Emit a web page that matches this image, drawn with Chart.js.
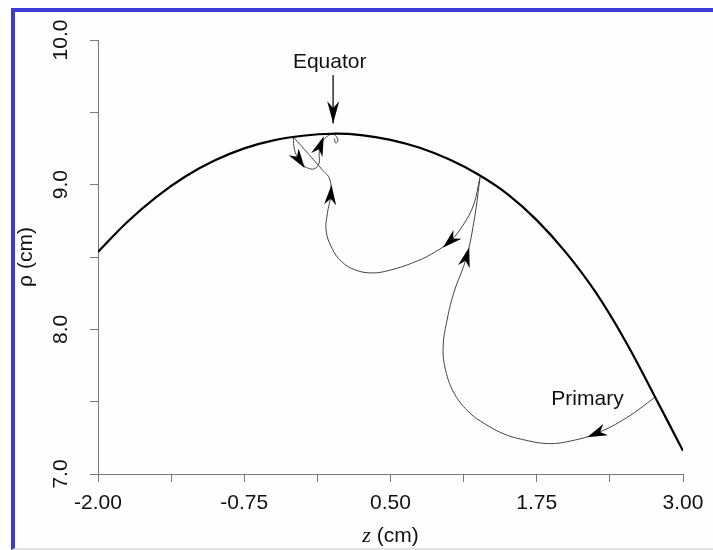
<!DOCTYPE html>
<html>
<head>
<meta charset="UTF-8">
<title>Trajetórias na superfície</title>
<script src="https://cdn.jsdelivr.net/npm/chart.js"></script>
<style>
    html, body { margin: 0; padding: 0; background: #fff; }
    #wrap { position: relative; width: 713px; height: 550px; overflow: hidden; background: #fefefe; }
    #grafico { position: absolute; left: 0; top: 0; }
    #moldura { position: absolute; left: 11px; top: 8px; right: 0; bottom: 0; border-left: 4px solid #3b3bd6; border-top: 4px solid #3b3bd6; border-bottom: 2px solid #e2e2e2; pointer-events: none; }
</style>
</head>
<body>
<div id="wrap">
    <canvas id="grafico" width="713" height="550"></canvas>
    <div id="moldura"></div>
</div>
<script>
    // superficie (curva grossa)
    const surfaceZ   = [-2.00, -1.75, -1.50, -1.25, -1.00, -0.75, -0.50, -0.25, 0.00, 0.25, 0.50, 0.75, 1.00, 1.25, 1.50, 1.75, 2.00, 2.25, 2.50, 2.75, 3.00];
    const surfaceRho = [8.535, 8.742, 8.916, 9.058, 9.168, 9.251, 9.306, 9.338, 9.352, 9.343, 9.31, 9.255, 9.175, 9.07, 8.935, 8.755, 8.53, 8.26, 7.93, 7.55, 7.16];

    // trajetoria, em trechos [z, rho]
    const primaryLeg = [[2.76, 7.53], [2.52, 7.39], [2.26, 7.28], [2.05, 7.23], [1.85, 7.21], [1.62, 7.24], [1.46, 7.28], [1.30, 7.35], [1.18, 7.42], [1.05, 7.55], [0.97, 7.72], [0.95, 7.88], [0.98, 8.05], [1.04, 8.25], [1.15, 8.50], [1.22, 8.78], [1.265, 9.05]];
    const loopLeg = [[1.265, 9.05], [1.21, 8.86], [1.12, 8.72], [1.01, 8.61], [0.85, 8.52], [0.69, 8.46], [0.50, 8.41], [0.35, 8.39], [0.20, 8.41], [0.08, 8.47], [0.00, 8.56], [-0.05, 8.68], [-0.04, 8.80], [-0.01, 8.93], [-0.02, 9.04], [-0.08, 9.10], [-0.33, 9.33]];
    const equatorLeg = [[-0.33, 9.33], [-0.32, 9.24], [-0.28, 9.17], [-0.22, 9.12], [-0.15, 9.11], [-0.11, 9.15], [-0.11, 9.21], [-0.10, 9.27], [-0.06, 9.32], [0.00, 9.35], [0.04, 9.33], [0.05, 9.30], [0.03, 9.29], [0.02, 9.32]];
    const equatorPointer = [[0.01, 9.757], [0.01, 9.424]];

    const xTickValues = [-2, -1.375, -0.75, -0.125, 0.5, 1.125, 1.75, 2.375, 3];
    const xTickLabels = ['-2.00', '', '-0.75', '', '0.50', '', '1.75', '', '3.00'];
    const yTickValues = [7, 7.5, 8, 8.5, 9, 9.5, 10];
    const yTickLabels = ['7.0', '', '8.0', '', '9.0', '', '10.0'];

    // setas: trecho e indice do ponto
    const arrowMarks = [[primaryLeg, 2], [primaryLeg, 14], [loopLeg, 3], [loopLeg, 13], [equatorLeg, 2], [equatorLeg, 7]];

    const fonte = "'Liberation Sans', Arial, sans-serif";
    Chart.defaults.font.family = fonte;

    const toXY = pts => pts.map(p => ({ x: p[0], y: p[1] }));

    function ponta(ctx, x, y, ang, len, wid, tipAt) {
        ctx.save();
        ctx.translate(x, y);
        ctx.rotate(ang);
        const tip = tipAt ? 0 : len / 2;
        const back = tip - len;
        ctx.beginPath();
        ctx.moveTo(tip, 0);
        ctx.lineTo(back, -wid / 2);
        ctx.lineTo(back + len * 0.3, 0);
        ctx.lineTo(back, wid / 2);
        ctx.closePath();
        ctx.fillStyle = '#000';
        ctx.fill();
        ctx.restore();
    }

    const extras = {
        id: 'extras',
        afterDatasetsDraw(chart) {
            const { ctx, scales: { x, y } } = chart;
            const px = p => [x.getPixelForValue(p[0]), y.getPixelForValue(p[1])];
            arrowMarks.forEach(([leg, i]) => {
                const a = px(leg[i - 1]), b = px(leg[i + 1]), c = px(leg[i]);
                ponta(ctx, c[0], c[1], Math.atan2(b[1] - a[1], b[0] - a[0]), 20, 12, false);
            });
            const p0 = px(equatorPointer[0]), p1 = px(equatorPointer[1]);
            ponta(ctx, p1[0], p1[1], Math.atan2(p1[1] - p0[1], p1[0] - p0[0]), 22, 12, true);

            ctx.save();
            ctx.fillStyle = '#111';
            ctx.font = '21px ' + fonte;
            ctx.textAlign = 'center';
            ctx.textBaseline = 'alphabetic';
            let t = px([-0.02, 9.805]);
            ctx.fillText('Equator', t[0], t[1]);
            t = px([2.184, 7.477]);
            ctx.fillText('Primary', t[0], t[1]);

            // titulo do eixo x: z em italico serifado
            const cx = x.getPixelForValue(0.5);
            const by = chart.chartArea.bottom + 68;
            ctx.textAlign = 'left';
            ctx.font = 'italic 22px "Liberation Serif", "Times New Roman", serif';
            const wz = ctx.measureText('z').width;
            ctx.font = '21px ' + fonte;
            const wr = ctx.measureText(' (cm)').width;
            const x0 = cx - (wz + wr) / 2;
            ctx.font = 'italic 22px "Liberation Serif", "Times New Roman", serif';
            ctx.fillText('z', x0, by);
            ctx.font = '21px ' + fonte;
            ctx.fillText(' (cm)', x0 + wz, by);
            ctx.restore();
        }
    };

    const linhaFina = { showLine: true, borderColor: '#444', borderWidth: 1, pointRadius: 0, tension: 0.4 };

    new Chart(document.getElementById('grafico'), {
        type: 'scatter',
        data: {
            datasets: [
                { data: surfaceZ.map((z, i) => ({ x: z, y: surfaceRho[i] })), showLine: true, borderColor: '#000', borderWidth: 2.2, pointRadius: 0, tension: 0.4 },
                Object.assign({ data: toXY(primaryLeg) }, linhaFina),
                Object.assign({ data: toXY(loopLeg) }, linhaFina),
                Object.assign({ data: toXY(equatorLeg) }, linhaFina),
                Object.assign({ data: toXY(equatorPointer) }, linhaFina, { tension: 0 })
            ]
        },
        options: {
            responsive: false,
            animation: false,
            layout: { padding: { left: 0, top: 40, right: 30, bottom: 0 } },
            plugins: { legend: { display: false }, tooltip: { enabled: false } },
            scales: {
                x: {
                    type: 'linear', min: -2, max: 3,
                    afterBuildTicks: s => { s.ticks = xTickValues.map(v => ({ value: v })); },
                    afterFit: s => { s.height = 76; },
                    grid: { drawOnChartArea: false, drawTicks: true, tickLength: 8, color: '#7a7a7a' },
                    border: { color: '#7a7a7a', width: 1 },
                    ticks: { autoSkip: false, maxRotation: 0, padding: 9, color: '#111', font: { size: 21 }, callback: (v, i) => xTickLabels[i] }
                },
                y: {
                    type: 'linear', min: 7, max: 10,
                    afterBuildTicks: s => { s.ticks = yTickValues.map(v => ({ value: v })); },
                    afterFit: s => { s.width = 98; },
                    grid: { drawOnChartArea: false, drawTicks: true, tickLength: 8, color: '#7a7a7a' },
                    border: { color: '#7a7a7a', width: 1 },
                    ticks: { autoSkip: false, minRotation: 90, maxRotation: 90, crossAlign: 'center', padding: 8, color: '#111', font: { size: 21 }, callback: (v, i) => yTickLabels[i] },
                    title: { display: true, text: 'ρ (cm)', color: '#111', font: { size: 21 }, padding: { top: 14, bottom: 0 } }
                }
            }
        },
        plugins: [extras]
    });
</script>
</body>
</html>
